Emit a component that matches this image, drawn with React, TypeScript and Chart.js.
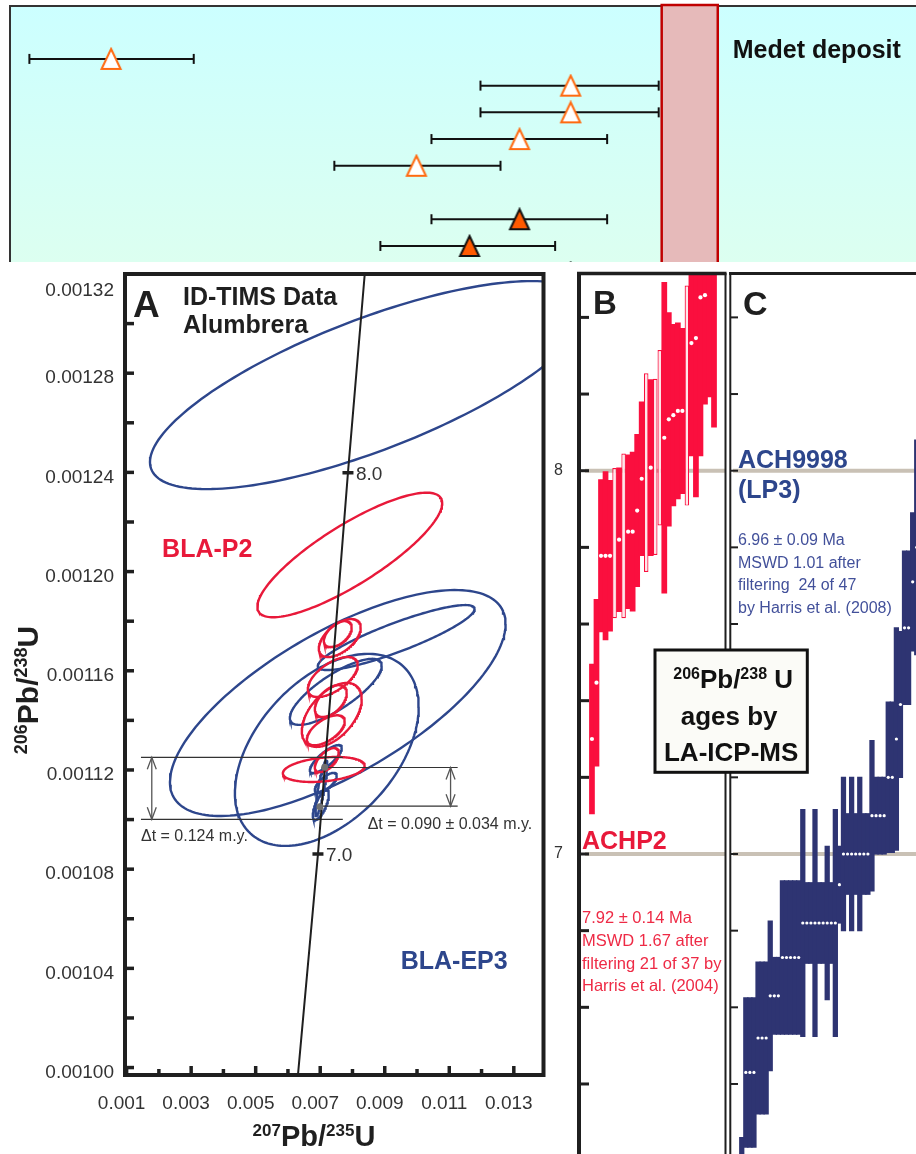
import React, { useEffect, useRef } from "react";
import { Chart, registerables } from "chart.js";

Chart.register(...registerables);

const SANS = '"Liberation Sans", Arial, Helvetica, sans-serif';
Chart.defaults.font.family = SANS;
Chart.defaults.color = "#333333";

const INK = "#1f1f1f";
const BLUE = "#2d468c";
const RED = "#e8193a";
const BAR_RED = "#fa0f3e";
const NAVY = "#2e3472";
const REF_GREY = "#c9c1b5";
const NOTE_BLUE = "#42509a";
const NOTE_RED = "#ee2a45";

/* ---------------- top strip: ages with 2σ ranges ---------------- */
const STRIP_ROW = [0, 1, 2, 3, 4, 6, 7, 8];
const STRIP_AGE = [11.16, 61.88, 61.88, 56.24, 44.86, 56.24, 50.72, 61.88];
const STRIP_LOW = [2.14, 51.93, 51.93, 46.52, 35.8, 46.52, 40.88, 51.6];
const STRIP_HIGH = [20.28, 71.6, 71.6, 65.91, 54.14, 65.91, 60.17, 72.1];
const STRIP_SOLID = [false, false, false, false, false, true, true, true];
const MEDET_RANGE = [71.93, 78.12];

/* ---------------- panel A: concordia diagram ---------------- */
const A_X_TICKS = [0.001, 0.002, 0.003, 0.004, 0.005, 0.006, 0.007, 0.008, 0.009, 0.01, 0.011, 0.012, 0.013];
const A_X_LABELLED = [0.001, 0.003, 0.005, 0.007, 0.009, 0.011, 0.013];
const A_Y_TICKS = [
  0.001, 0.00102, 0.00104, 0.00106, 0.00108, 0.0011, 0.00112, 0.00114, 0.00116,
  0.00118, 0.0012, 0.00122, 0.00124, 0.00126, 0.00128, 0.0013, 0.00132,
];
const A_Y_LABELLED = [0.001, 0.00104, 0.00108, 0.00112, 0.00116, 0.0012, 0.00124, 0.00128, 0.00132];

const CONCORDIA_AGE = [6.43, 7.0, 8.0, 8.52];
const CONCORDIA_X = [0.00631, 0.00693, 0.00786, 0.00838];
const CONCORDIA_Y = [0.000997, 0.0010861, 0.0012399, 0.00132];
const CONCORDIA_MARKED = [7.0, 8.0];

// error ellipses: centre 207Pb/235U, centre 206Pb/238U, 2σ of each ratio, error correlation
const EP3_X = [0.00852, 0.007544, 0.009355, 0.007204, 0.007483, 0.007173, 0.007173, 0.007018, 0.007033];
const EP3_Y = [0.0012752, 0.001147, 0.0011734, 0.0011281, 0.0011515, 0.0011244, 0.0011148, 0.0011059, 0.0011127];
const EP3_SX = [0.006796, 0.005201, 0.00243, 0.002848, 0.001424, 0.000495, 0.00034, 0.000248, 0.000186];
const EP3_SY = [0.00004194, 0.00004556, 0.0000131, 0.00003871, 0.00001331, 0.00000565, 0.00000403, 0.00000605, 0.00001129];
const EP3_RHO = [0.74, 0.7, 0.88, 0.45, 0.79, 0.8, 0.7, 0.7, 0.85];

const P2_X = [0.007916, 0.007606, 0.007544, 0.00739, 0.007359, 0.007328, 0.007173, 0.007111, 0.007204];
const P2_Y = [0.0012067, 0.0011732, 0.0011748, 0.0011575, 0.0011422, 0.0011478, 0.001136, 0.0011202, 0.001124];
const P2_SX = [0.002864, 0.00065, 0.000433, 0.000774, 0.000929, 0.000495, 0.000588, 0.001269, 0.000372];
const P2_SY = [0.00002512, 0.00000766, 0.00000524, 0.00000806, 0.0000129, 0.00000645, 0.00000605, 0.00000504, 0.00000484];
const P2_RHO = [0.83, 0.55, 0.5, 0.6, 0.5, 0.5, 0.6, 0.3, 0.6];

// Δt brackets between the two mean ages
const DT_WIDE_X = [0.001445, 0.0077];
const DT_WIDE_Y = [0.0011251, 0.0011001];
const DT_WIDE_ARROW_X = 0.00178;
const DT_NARROW_X = [0.00714, 0.01126];
const DT_NARROW_Y = [0.001121, 0.0011054];
const DT_NARROW_ARROW_X = 0.01104;
const MEAN_X = [0.00714, 0.00699];
const MEAN_Y = [0.0011211, 0.0011052];

/* ---------------- panels B and C: LA-ICP-MS spot ages (Ma, 2σ) ---------------- */
const AGE_TICKS = [6.4, 6.6, 6.8, 7.0, 7.2, 7.4, 7.6, 7.8, 8.0, 8.2, 8.4];
const REF_AGES = [7, 8];

const B_AGE = [
  7.3, 7.447, 7.778, 7.778, 7.778, 7.811, 7.82, 7.83, 7.841, 7.841, 7.896, 7.979, 7.995, 8.008,
  8.01, 8.086, 8.086, 8.134, 8.145, 8.156, 8.156, 8.196, 8.333, 8.346, 8.452, 8.458, 8.62, 8.65,
];
const B_ERR = [
  0.195, 0.217, 0.198, 0.219, 0.196, 0.196, 0.187, 0.215, 0.2, 0.207, 0.198, 0.2, 0.259, 0.229,
  0.23, 0.229, 0.405, 0.278, 0.236, 0.229, 0.215, 0.287, 0.294, 0.414, 0.413, 0.284, 0.427, 0.536,
];
const B_REJECTED = [5, 7, 12, 14, 15, 21];

const C_AGE = [
  6.06, 6.43, 6.43, 6.43, 6.52, 6.52, 6.52, 6.63, 6.63, 6.63, 6.73, 6.73, 6.73, 6.73, 6.73,
  6.82, 6.82, 6.82, 6.82, 6.82, 6.82, 6.82, 6.82, 6.82, 6.92, 7.0, 7.0, 7.0, 7.0, 7.0, 7.0, 7.0,
  7.1, 7.1, 7.1, 7.1, 7.2, 7.2, 7.3, 7.39, 7.59, 7.59, 7.71, 7.8,
];
const C_ERR = [
  0.2, 0.195, 0.195, 0.195, 0.198, 0.198, 0.198, 0.195, 0.1, 0.1, 0.2, 0.2, 0.2, 0.2, 0.2,
  0.296, 0.105, 0.105, 0.296, 0.105, 0.105, 0.2, 0.105, 0.296, 0.1, 0.2, 0.105, 0.2, 0.105, 0.2, 0.105, 0.105,
  0.196, 0.1, 0.1, 0.1, 0.196, 0.196, 0.29, 0.19, 0.2, 0.2, 0.18, 0.28,
];

const B_NOTE = ["7.92 ± 0.14 Ma", "MSWD 1.67 after", "filtering 21 of 37 by", "Harris et al. (2004)"];
const C_NOTE = ["6.96 ± 0.09 Ma", "MSWD 1.01 after", "filtering  24 of 47", "by Harris et al. (2008)"];

/* ---------------- drawing helpers ---------------- */
type Run = { text: string; size: number; raise?: number };

function seg(ctx: CanvasRenderingContext2D, x1: number, y1: number, x2: number, y2: number) {
  ctx.beginPath();
  ctx.moveTo(x1, y1);
  ctx.lineTo(x2, y2);
  ctx.stroke();
}

function drawRuns(ctx: CanvasRenderingContext2D, runs: Run[], x: number, y: number, center: boolean) {
  ctx.textAlign = "left";
  ctx.textBaseline = "alphabetic";
  const widths = runs.map((r) => {
    ctx.font = `bold ${r.size}px ${SANS}`;
    return ctx.measureText(r.text).width;
  });
  const total = widths.reduce((s, w) => s + w, 0);
  let cx = center ? x - total / 2 : x;
  runs.forEach((r, i) => {
    ctx.font = `bold ${r.size}px ${SANS}`;
    ctx.fillText(r.text, cx, y - (r.raise || 0));
    cx += widths[i];
  });
}

function text(ctx: CanvasRenderingContext2D, s: string, x: number, y: number, font: string, color: string) {
  ctx.font = font;
  ctx.fillStyle = color;
  ctx.textAlign = "left";
  ctx.textBaseline = "alphabetic";
  ctx.fillText(s, x, y);
}

function doubleArrow(ctx: CanvasRenderingContext2D, x: number, y1: number, y2: number) {
  seg(ctx, x, y1, x, y2);
  ctx.beginPath();
  ctx.moveTo(x - 4.5, y1 + 12);
  ctx.lineTo(x, y1);
  ctx.lineTo(x + 4.5, y1 + 12);
  ctx.moveTo(x - 4.5, y2 - 12);
  ctx.lineTo(x, y2);
  ctx.lineTo(x + 4.5, y2 - 12);
  ctx.stroke();
}

function ellipseOutline(cx: number, cy: number, sx: number, sy: number, rho: number) {
  const k = Math.sqrt(1 - rho * rho);
  const pts: { x: number; y: number }[] = [];
  for (let i = 0; i <= 180; i++) {
    const t = (i / 180) * Math.PI * 2;
    pts.push({ x: cx + sx * Math.cos(t), y: cy + sy * (rho * Math.cos(t) + k * Math.sin(t)) });
  }
  return pts;
}

function triangleSprite(fill: string, stroke: string) {
  const c = document.createElement("canvas");
  c.width = 24;
  c.height = 24;
  const g = c.getContext("2d")!;
  g.beginPath();
  g.moveTo(12, 2);
  g.lineTo(21.5, 22);
  g.lineTo(2.5, 22);
  g.closePath();
  g.fillStyle = fill;
  g.fill();
  g.lineWidth = 2;
  g.strokeStyle = stroke;
  g.stroke();
  return c;
}

const near = (list: number[], v: number) => list.some((l) => Math.abs(l - v) < 1e-9);

const baseOptions = {
  responsive: false,
  maintainAspectRatio: false,
  animation: false as const,
  events: [] as any[],
  plugins: { legend: { display: false }, tooltip: { enabled: false } },
};

// keep the chart area exactly where the layout padding puts it
const noEdgePadding = (s: any) => {
  s.paddingTop = 0;
  s.paddingBottom = 0;
  s.paddingLeft = 0;
  s.paddingRight = 0;
};

/* ---------------- top strip ---------------- */
const stripPlugin = {
  id: "strip",
  beforeDatasetsDraw(chart: any) {
    const { ctx, chartArea: a } = chart;
    const x = chart.scales.x;
    ctx.save();
    const g = ctx.createLinearGradient(0, a.top, 0, a.bottom);
    g.addColorStop(0, "#ccffff");
    g.addColorStop(1, "#dcfff0");
    ctx.fillStyle = g;
    ctx.fillRect(a.left, a.top, a.right - a.left, a.bottom - a.top);
    ctx.strokeStyle = "#333";
    ctx.lineWidth = 2;
    ctx.beginPath();
    ctx.moveTo(a.left, a.bottom);
    ctx.lineTo(a.left, a.top);
    ctx.lineTo(a.right, a.top);
    ctx.stroke();
    const x0 = x.getPixelForValue(MEDET_RANGE[0]);
    const x1 = x.getPixelForValue(MEDET_RANGE[1]);
    ctx.fillStyle = "#e6baba";
    ctx.fillRect(x0, a.top - 1, x1 - x0, a.bottom - a.top + 1);
    ctx.strokeStyle = "#c00000";
    ctx.lineWidth = 2.5;
    ctx.strokeRect(x0, a.top - 1, x1 - x0, a.bottom - a.top + 10);
    text(ctx, "Medet deposit", x1 + 15, 58, `bold 25px ${SANS}`, "#111");
    ctx.restore();
  },
};

function StripChart() {
  const ref = useRef<HTMLCanvasElement>(null);
  useEffect(() => {
    const openTri = triangleSprite("#ffffff", "#ff6a10");
    const solidTri = triangleSprite("#ff5a00", "#111111");
    const ranges = STRIP_ROW.map((row, i) => ({
      type: "scatter",
      data: [
        { x: STRIP_LOW[i], y: row },
        { x: STRIP_HIGH[i], y: row },
      ],
      showLine: true,
      borderColor: "#111",
      borderWidth: 2,
      pointStyle: "line",
      rotation: 90,
      pointRadius: 5,
      pointBorderWidth: 2,
      pointBorderColor: "#111",
      order: 2,
    }));
    const marks = {
      type: "scatter",
      data: STRIP_ROW.map((row, i) => ({ x: STRIP_AGE[i], y: row })),
      pointStyle: (c: any) => (STRIP_SOLID[c.dataIndex] ? solidTri : openTri),
      pointRadius: 10,
      order: 1,
    };
    const chart = new Chart(ref.current!, {
      type: "scatter",
      data: { datasets: [marks, ...ranges] as any },
      options: {
        ...baseOptions,
        layout: { autoPadding: false, padding: { left: 10, top: 6, right: 0, bottom: 0 } },
        scales: {
          x: { type: "linear", display: false, min: 0, max: 100 },
          y: { type: "linear", display: false, min: -1.98, max: 7.6, reverse: true },
        },
      } as any,
      plugins: [stripPlugin],
    });
    return () => chart.destroy();
  }, []);
  return <canvas ref={ref} width={916} height={262} style={{ position: "absolute", left: 0, top: 0 }} />;
}

/* ---------------- panel A ---------------- */
const panelAPlugin = {
  id: "panelA",
  afterDatasetsDraw(chart: any) {
    const { ctx, chartArea: a } = chart;
    const x = chart.scales.x;
    const y = chart.scales.y;
    ctx.save();
    ctx.strokeStyle = "#555";
    ctx.lineWidth = 1.3;
    doubleArrow(ctx, x.getPixelForValue(DT_WIDE_ARROW_X), y.getPixelForValue(DT_WIDE_Y[0]), y.getPixelForValue(DT_WIDE_Y[1]));
    doubleArrow(ctx, x.getPixelForValue(DT_NARROW_ARROW_X), y.getPixelForValue(DT_NARROW_Y[0]), y.getPixelForValue(DT_NARROW_Y[1]));

    ctx.strokeStyle = INK;
    ctx.lineWidth = 4;
    ctx.strokeRect(a.left, a.top, a.right - a.left, a.bottom - a.top);
    ctx.lineWidth = 3.5;
    A_X_TICKS.forEach((v) => {
      const px = x.getPixelForValue(v);
      seg(ctx, px, a.bottom, px, a.bottom - (near(A_X_LABELLED, v) ? 9 : 6));
    });
    A_Y_TICKS.forEach((v) => {
      const py = y.getPixelForValue(v);
      seg(ctx, a.left, py, a.left + 9, py);
    });

    CONCORDIA_AGE.forEach((age, i) => {
      if (!near(CONCORDIA_MARKED, age)) return;
      const px = x.getPixelForValue(CONCORDIA_X[i]);
      const py = y.getPixelForValue(CONCORDIA_Y[i]);
      text(ctx, age.toFixed(1), px + 8, py + 7, `19px ${SANS}`, "#333");
    });

    text(ctx, "A", a.left + 8, a.top + 43, `bold 37px ${SANS}`, INK);
    text(ctx, "ID-TIMS Data", a.left + 58, a.top + 31, `bold 25px ${SANS}`, INK);
    text(ctx, "Alumbrera", a.left + 58, a.top + 59, `bold 25px ${SANS}`, INK);
    text(ctx, "BLA-P2", x.getPixelForValue(0.0021), y.getPixelForValue(0.001206), `bold 25px ${SANS}`, RED);
    text(ctx, "BLA-EP3", x.getPixelForValue(0.009495), y.getPixelForValue(0.00103976), `bold 25px ${SANS}`, BLUE);
    text(ctx, "Δt = 0.124 m.y.", x.getPixelForValue(DT_WIDE_X[0]), y.getPixelForValue(DT_WIDE_Y[1]) + 22, `16px ${SANS}`, "#333");
    text(ctx, "Δt = 0.090 ± 0.034 m.y.", x.getPixelForValue(0.00847), y.getPixelForValue(DT_NARROW_Y[1]) + 23, `16px ${SANS}`, "#333");

    ctx.fillStyle = INK;
    drawRuns(
      ctx,
      [
        { text: "207", size: 17, raise: 10.5 },
        { text: "Pb/", size: 29 },
        { text: "235", size: 17, raise: 10.5 },
        { text: "U", size: 29 },
      ],
      314,
      884,
      true
    );
    ctx.translate(37.5, 428);
    ctx.rotate(-Math.PI / 2);
    drawRuns(
      ctx,
      [
        { text: "206", size: 18, raise: 11 },
        { text: "Pb/", size: 30 },
        { text: "238", size: 18, raise: 11 },
        { text: "U", size: 30 },
      ],
      0,
      0,
      true
    );
    ctx.restore();
  },
};

function ConcordiaChart() {
  const ref = useRef<HTMLCanvasElement>(null);
  useEffect(() => {
    const ellipses = (xs: number[], ys: number[], sxs: number[], sys: number[], rhos: number[], color: string, order: number) =>
      xs.map((cx, i) => ({
        type: "scatter",
        data: ellipseOutline(cx, ys[i], sxs[i], sys[i], rhos[i]),
        showLine: true,
        borderColor: color,
        borderWidth: 2.4,
        pointRadius: 0,
        order,
      }));
    const line = (xs: number[], ys: number[], color: string, width: number, order: number) => ({
      type: "scatter",
      data: xs.map((v, i) => ({ x: v, y: ys[i] })),
      showLine: true,
      borderColor: color,
      borderWidth: width,
      pointRadius: 0,
      order,
    });
    const datasets = [
      {
        type: "scatter",
        data: CONCORDIA_AGE.map((age, i) => ({ x: CONCORDIA_X[i], y: CONCORDIA_Y[i] })).filter((_, i) =>
          near(CONCORDIA_MARKED, CONCORDIA_AGE[i])
        ),
        pointStyle: "line",
        pointRadius: 5.5,
        pointBorderWidth: 3.5,
        pointBorderColor: INK,
        order: 0,
      },
      {
        type: "scatter",
        data: MEAN_X.map((v, i) => ({ x: v, y: MEAN_Y[i] })),
        pointRadius: 3.5,
        pointBackgroundColor: "#707070",
        pointBorderWidth: 0,
        order: 1,
      },
      line(CONCORDIA_X, CONCORDIA_Y, INK, 2, 2),
      line(DT_WIDE_X, [DT_WIDE_Y[0], DT_WIDE_Y[0]], "#333", 1.2, 3),
      line(DT_WIDE_X, [DT_WIDE_Y[1], DT_WIDE_Y[1]], "#333", 1.2, 3),
      line(DT_NARROW_X, [DT_NARROW_Y[0], DT_NARROW_Y[0]], "#333", 1.2, 3),
      line([MEAN_X[1], DT_NARROW_X[1]], [DT_NARROW_Y[1], DT_NARROW_Y[1]], "#333", 1.2, 3),
      ...ellipses(P2_X, P2_Y, P2_SX, P2_SY, P2_RHO, RED, 4),
      ...ellipses(EP3_X, EP3_Y, EP3_SX, EP3_SY, EP3_RHO, BLUE, 5),
    ];
    const hidden = { display: false, drawTicks: false };
    const yMax = 0.00132;
    const chart = new Chart(ref.current!, {
      type: "scatter",
      data: { datasets: datasets as any },
      options: {
        ...baseOptions,
        layout: { autoPadding: false, padding: { left: 0, top: 12, right: 31.5, bottom: 0 } },
        scales: {
          x: {
            type: "linear",
            min: 0.00095,
            max: 0.01392,
            grid: hidden,
            border: { display: false },
            afterBuildTicks: (s: any) => {
              s.ticks = A_X_TICKS.map((value) => ({ value }));
            },
            afterFit: (s: any) => {
              s.height = 79;
              noEdgePadding(s);
            },
            ticks: {
              autoSkip: false,
              maxRotation: 0,
              minRotation: 0,
              padding: 17,
              labelOffset: -5,
              color: "#333",
              font: { size: 19 },
              callback: (v: any) => (near(A_X_LABELLED, Number(v)) ? Number(v).toFixed(3) : ""),
            },
          },
          y: {
            type: "linear",
            min: 0.000997,
            max: yMax,
            grid: hidden,
            border: { display: false },
            afterBuildTicks: (s: any) => {
              s.ticks = A_Y_TICKS.map((value) => ({ value }));
            },
            afterFit: (s: any) => {
              s.width = 125;
              noEdgePadding(s);
            },
            ticks: {
              autoSkip: false,
              padding: 11,
              labelOffset: 5,
              color: "#333",
              font: { size: 19 },
              callback: (v: any) => {
                const n = Number(v);
                if (!near(A_Y_LABELLED, n)) return "";
                // the top label sits just inside the frame corner
                return Math.abs(n - yMax) < 1e-9 ? ["", n.toFixed(5)] : n.toFixed(5);
              },
            },
          },
        },
      } as any,
      plugins: [panelAPlugin],
    });
    return () => chart.destroy();
  }, []);
  return <canvas ref={ref} width={575} height={892} style={{ position: "absolute", left: 0, top: 262 }} />;
}

/* ---------------- panels B and C ---------------- */
function refLines(chart: any, from: number) {
  const { ctx, chartArea: a } = chart;
  const y = chart.scales.y;
  ctx.save();
  ctx.strokeStyle = REF_GREY;
  ctx.lineWidth = 4;
  REF_AGES.forEach((v) => {
    const py = y.getPixelForValue(v);
    seg(ctx, a.left + from, py, a.right, py);
  });
  ctx.restore();
}

const panelBPlugin = {
  id: "panelB",
  beforeDatasetsDraw(chart: any) {
    refLines(chart, 4);
  },
  afterDatasetsDraw(chart: any) {
    const { ctx, chartArea: a } = chart;
    const y = chart.scales.y;
    ctx.save();
    ctx.strokeStyle = INK;
    ctx.lineWidth = 4;
    seg(ctx, a.left - 2, a.top - 2, a.left - 2, a.bottom);
    ctx.lineWidth = 3.5;
    seg(ctx, a.left - 4, a.top - 0.5, a.right + 1.5, a.top - 0.5);
    ctx.lineWidth = 2;
    seg(ctx, a.right + 0.5, a.top - 1, a.right + 0.5, a.bottom);
    ctx.lineWidth = 3;
    AGE_TICKS.forEach((v) => {
      const py = y.getPixelForValue(v);
      seg(ctx, a.left - 2, py, a.left + 8, py);
    });
    const y7 = y.getPixelForValue(7);
    text(ctx, "B", a.left + 12, a.top + 39.5, `bold 33px ${SANS}`, INK);
    text(ctx, "ACHP2", a.left + 1, y7 - 5, `bold 25px ${SANS}`, RED);
    B_NOTE.forEach((s, k) => text(ctx, s, a.left + 1, y7 + 69.3 + k * 22.7, `16.5px ${SANS}`, NOTE_RED));
    ctx.restore();
  },
};

const panelCPlugin = {
  id: "panelC",
  beforeDatasetsDraw(chart: any) {
    refLines(chart, 2);
  },
  afterDatasetsDraw(chart: any) {
    const { ctx, chartArea: a } = chart;
    const y = chart.scales.y;
    ctx.save();
    ctx.strokeStyle = INK;
    ctx.lineWidth = 2;
    seg(ctx, a.left - 0.7, a.top - 2, a.left - 0.7, a.bottom);
    ctx.lineWidth = 3;
    seg(ctx, a.left - 2, a.top - 0.5, a.right, a.top - 0.5);
    ctx.lineWidth = 2;
    AGE_TICKS.forEach((v) => {
      const py = y.getPixelForValue(v);
      seg(ctx, a.left - 1, py, a.left + 7, py);
    });
    const y8 = y.getPixelForValue(8);
    text(ctx, "C", a.left + 12, a.top + 41, `bold 34px ${SANS}`, INK);
    text(ctx, "ACH9998", a.left + 7, y8 - 2.7, `bold 25px ${SANS}`, BLUE);
    text(ctx, "(LP3)", a.left + 7, y8 + 27.5, `bold 25px ${SANS}`, BLUE);
    C_NOTE.forEach((s, k) => text(ctx, s, a.left + 7, y8 + 74.3 + k * 22.5, `16px ${SANS}`, NOTE_BLUE));

    // method box straddling the B / C divide
    const bx0 = a.left - 76;
    const bx1 = a.left + 76.3;
    const by0 = 388;
    const by1 = 510.3;
    ctx.fillStyle = "#fbfbf7";
    ctx.fillRect(bx0, by0, bx1 - bx0, by1 - by0);
    ctx.strokeStyle = "#111";
    ctx.lineWidth = 3;
    ctx.strokeRect(bx0, by0, bx1 - bx0, by1 - by0);
    ctx.fillStyle = "#111";
    const mid = (bx0 + bx1) / 2;
    drawRuns(
      ctx,
      [
        { text: "206", size: 16, raise: 9 },
        { text: "Pb/", size: 26 },
        { text: "238", size: 16, raise: 9 },
        { text: " U", size: 26 },
      ],
      mid + 2,
      426,
      true
    );
    drawRuns(ctx, [{ text: "ages by", size: 26 }], mid - 2, 463, true);
    drawRuns(ctx, [{ text: "LA-ICP-MS", size: 26 }], mid, 499, true);
    ctx.restore();
  },
};

function spotConfig(ages: number[], errs: number[], rejected: number[], color: string, dotRadius: number, xMin: number, xMax: number) {
  const slots = ages.map((_, i) => i + 0.5);
  return {
    data: {
      datasets: [
        {
          type: "scatter",
          data: ages.map((a, i) => ({ x: slots[i], y: a })).filter((_, i) => !rejected.includes(i)),
          pointRadius: dotRadius,
          pointBackgroundColor: "#ffffff",
          pointBorderWidth: 0,
          order: 0,
        },
        {
          type: "bar",
          data: ages.map((a, i) => ({ x: slots[i], y: [a - errs[i], a + errs[i]] })),
          backgroundColor: (c: any) => (rejected.includes(c.dataIndex) ? "#ffe6ea" : color),
          borderColor: color,
          borderWidth: (c: any) => (rejected.includes(c.dataIndex) ? 1.2 : 0),
          inflateAmount: (c: any) => (rejected.includes(c.dataIndex) ? 0 : 0.6),
          borderSkipped: false,
          barPercentage: 1,
          categoryPercentage: 1,
          order: 1,
        },
      ],
    },
    slots,
    xMin,
    xMax,
  };
}

function PanelB() {
  const ref = useRef<HTMLCanvasElement>(null);
  useEffect(() => {
    const cfg = spotConfig(B_AGE, B_ERR, B_REJECTED, BAR_RED, 2.1, -1.925, 29.93);
    const chart = new Chart(ref.current!, {
      type: "bar",
      data: cfg.data as any,
      options: {
        ...baseOptions,
        layout: { autoPadding: false, padding: { left: 0, top: 12, right: 3, bottom: 0 } },
        scales: {
          x: {
            type: "linear",
            display: false,
            offset: false,
            min: cfg.xMin,
            max: cfg.xMax,
            afterBuildTicks: (s: any) => {
              s.ticks = cfg.slots.map((value) => ({ value }));
            },
          },
          y: {
            type: "linear",
            min: 6.2173,
            max: 8.5132,
            grid: { display: false, drawTicks: false },
            border: { display: false },
            afterBuildTicks: (s: any) => {
              s.ticks = AGE_TICKS.map((value) => ({ value }));
            },
            afterFit: (s: any) => {
              s.width = 41;
              noEdgePadding(s);
            },
            ticks: {
              autoSkip: false,
              padding: 18,
              color: "#333",
              font: { size: 16 },
              callback: (v: any) => (near(REF_AGES, Number(v)) ? String(Math.round(Number(v))) : ""),
            },
          },
        },
      } as any,
      plugins: [panelBPlugin],
    });
    return () => chart.destroy();
  }, []);
  return <canvas ref={ref} width={188} height={892} style={{ position: "absolute", left: 540, top: 262 }} />;
}

function PanelC() {
  const ref = useRef<HTMLCanvasElement>(null);
  useEffect(() => {
    const cfg = spotConfig(C_AGE, C_ERR, [], NAVY, 1.6, -2.14, 43.32);
    const chart = new Chart(ref.current!, {
      type: "bar",
      data: cfg.data as any,
      options: {
        ...baseOptions,
        layout: { autoPadding: false, padding: { left: 91, top: 12, right: 0, bottom: 0 } },
        scales: {
          x: {
            type: "linear",
            display: false,
            offset: false,
            min: cfg.xMin,
            max: cfg.xMax,
            afterBuildTicks: (s: any) => {
              s.ticks = cfg.slots.map((value) => ({ value }));
            },
          },
          y: {
            type: "linear",
            display: false,
            min: 6.2173,
            max: 8.5132,
            afterBuildTicks: (s: any) => {
              s.ticks = AGE_TICKS.map((value) => ({ value }));
            },
          },
        },
      } as any,
      plugins: [panelCPlugin],
    });
    return () => chart.destroy();
  }, []);
  return <canvas ref={ref} width={276} height={892} style={{ position: "absolute", left: 640, top: 262 }} />;
}

export default function App() {
  return (
    <div style={{ position: "absolute", left: 0, top: 0, width: 916, height: 1154, overflow: "hidden", background: "#ffffff" }}>
      <StripChart />
      <ConcordiaChart />
      <PanelB />
      <PanelC />
    </div>
  );
}
